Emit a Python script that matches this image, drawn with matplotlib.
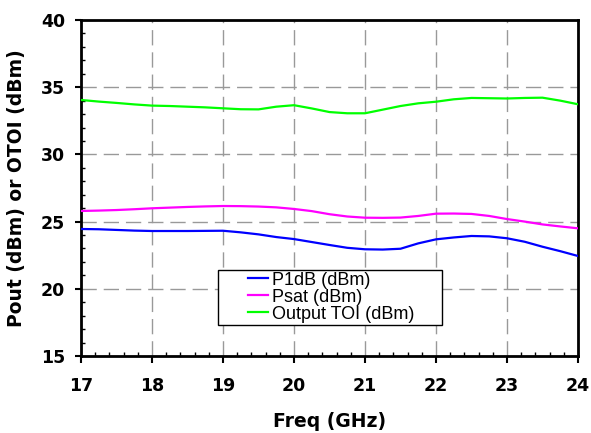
import matplotlib
matplotlib.use("Agg")
import matplotlib.pyplot as plt
from matplotlib.legend_handler import HandlerLine2D
from matplotlib.ticker import MultipleLocator

freq = [17, 17.25, 17.5, 17.75, 18, 18.25, 18.5, 18.75, 19, 19.25, 19.5, 19.75,
        20, 20.25, 20.5, 20.75, 21, 21.25, 21.5, 21.75, 22, 22.25, 22.5, 22.75,
        23, 23.25, 23.5, 23.75, 24]
p1db = [24.45, 24.43, 24.38, 24.33, 24.3, 24.3, 24.3, 24.31, 24.32, 24.2, 24.05, 23.85,
        23.7, 23.48, 23.26, 23.05, 22.94, 22.92, 22.98, 23.38, 23.68, 23.82, 23.93, 23.9,
        23.76, 23.5, 23.13, 22.8, 22.44]
psat = [25.79, 25.82, 25.86, 25.92, 25.99, 26.04, 26.09, 26.13, 26.16, 26.15, 26.12, 26.06,
        25.94, 25.78, 25.55, 25.38, 25.29, 25.28, 25.3, 25.42, 25.59, 25.6, 25.57, 25.42,
        25.19, 25.0, 24.79, 24.64, 24.5]
otoi = [34.05, 33.93, 33.83, 33.72, 33.63, 33.6, 33.55, 33.5, 33.43, 33.36, 33.35, 33.55,
        33.66, 33.42, 33.15, 33.06, 33.06, 33.33, 33.6, 33.8, 33.92, 34.1, 34.2, 34.18,
        34.16, 34.2, 34.22, 34.0, 33.73]

labels = ["P1dB (dBm)", "Psat (dBm)", "Output TOI (dBm)"]
colors = ["#0000FF", "#FF00FF", "#00FF00"]
xticks = [17, 18, 19, 20, 21, 22, 23, 24]
yticks = [15, 20, 25, 30, 35, 40]


class ShiftedLineHandler(HandlerLine2D):
    def __init__(self, frac=0.585, **kw):
        super().__init__(**kw)
        self.frac = frac

    def create_artists(self, legend, orig_handle, xdescent, ydescent, width,
                       height, fontsize, trans):
        return super().create_artists(legend, orig_handle,
                                      xdescent - width * self.frac, ydescent,
                                      width * (1 - self.frac), height,
                                      fontsize, trans)


fig = plt.figure(figsize=(5.91, 4.33), dpi=100)
ax = fig.add_axes([81 / 591, 1 - 356 / 433, (578 - 81) / 591, (356 - 20) / 433])

lines = []
for y, c, lab in zip([p1db, psat, otoi], colors, labels):
    ln, = ax.plot(freq, y, color=c, lw=1.6, label=lab, zorder=3)
    lines.append(ln)

ax.set_xlim(17, 24)
ax.set_ylim(15, 40)
ax.set_xticks(xticks)
ax.set_yticks(yticks)
ax.xaxis.set_minor_locator(MultipleLocator(0.2))
ax.yaxis.set_minor_locator(MultipleLocator(1))

ax.grid(True, which="major", color="#999999", lw=1.0, linestyle=(0, (11, 5)), zorder=1)

ax.tick_params(axis="both", which="major", direction="out", width=1.5, labelsize=12.5,
               color="black")
ax.tick_params(axis="x", which="major", length=5, pad=10)
ax.tick_params(axis="y", which="major", length=4.5, pad=7)
ax.tick_params(axis="both", which="minor", direction="in", length=3, width=1.0)
for lab in ax.get_xticklabels() + ax.get_yticklabels():
    lab.set_fontweight("bold")
    lab.set_family("DejaVu Sans")

for s in ax.spines.values():
    s.set_linewidth(2)
    s.set_color("black")

ax.set_xlabel("Freq (GHz)", fontsize=13.5, fontweight="bold", family="DejaVu Sans")
ax.set_ylabel("Pout (dBm) or OTOI (dBm)", fontsize=13.5, fontweight="bold",
              family="DejaVu Sans", va="center")
ax.xaxis.set_label_coords(0.5, -0.168)
ax.yaxis.set_label_coords(-0.129, 0.5)

x0 = (218 - 81) / 497
w = (442 - 218) / 497
ytop = (356 - 270) / 336
ybot = (356 - 329) / 336
leg = ax.legend(handles=lines, loc="upper left",
                bbox_to_anchor=(x0, ybot, w, ytop - ybot), mode="expand",
                borderaxespad=0, borderpad=0.1, labelspacing=0.0,
                handlelength=2.67, handletextpad=0.22, fancybox=False,
                framealpha=1, edgecolor="black",
                prop={"family": "Liberation Sans", "size": 13},
                handler_map={ln: ShiftedLineHandler() for ln in lines})
leg.get_frame().set_linewidth(1.0)
leg.set_zorder(5)

fig.savefig("out.png", dpi=100, facecolor="white")
